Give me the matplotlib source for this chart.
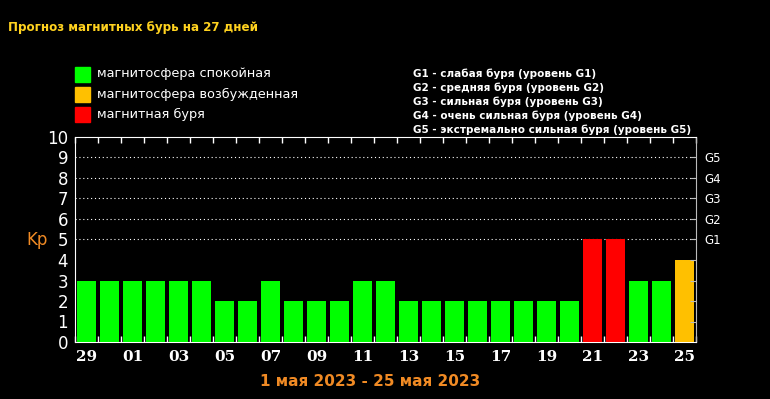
import numpy as np
import matplotlib.pyplot as plt

days = ["29", "30", "01", "02", "03", "04", "05", "06", "07", "08", "09", "10", "11", "12",
        "13", "14", "15", "16", "17", "18", "19", "20", "21", "22", "23", "24", "25"]
kp = [3, 3, 3, 3, 3, 3, 2, 2, 3, 2, 2, 2, 3, 3,
      2, 2, 2, 2, 2, 2, 2, 2, 5, 5, 3, 3, 4]
g_levels = [5, 6, 7, 8, 9]
g_labels = ["G1", "G2", "G3", "G4", "G5"]
legend_items = ["магнитосфера спокойная", "магнитосфера возбужденная", "магнитная буря"]
g_text = ["G1 - слабая буря (уровень G1)",
          "G2 - средняя буря (уровень G2)",
          "G3 - сильная буря (уровень G3)",
          "G4 - очень сильная буря (уровень G4)",
          "G5 - экстремально сильная буря (уровень G5)"]

GREEN = "#00ff00"
ORANGE = "#ffc000"
RED = "#ff0000"


def bar_color(v):
    if v >= 5:
        return RED
    if v == 4:
        return ORANGE
    return GREEN


fig = plt.figure(figsize=(7.7, 3.99), dpi=100, facecolor="black")
ax = fig.add_axes([75 / 770, 57 / 399, 621 / 770, 205 / 399])
ax.set_facecolor("black")

x = np.arange(len(kp))
ax.bar(x, kp, width=0.8, color=[bar_color(v) for v in kp], zorder=3)

for lv in g_levels:
    ax.axhline(lv, color="white", linestyle=(0, (1, 2.5)), linewidth=0.8, zorder=1)

ax.set_xlim(-0.5, len(kp) - 0.5)
ax.set_ylim(0, 10)

ax.set_yticks(range(11))
ax.set_yticklabels([str(i) for i in range(11)], fontsize=12, color="white")
ax.tick_params(axis="y", length=0, pad=5)

ax.set_xticks(x[::2])
ax.set_xticklabels(days[::2], fontsize=11, color="white", family="DejaVu Serif",
                   fontweight="bold")
ax.tick_params(axis="x", which="major", length=0, pad=6)
ax.set_xticks(np.arange(len(kp) + 1) - 0.5, minor=True)
ax.tick_params(axis="x", which="minor", direction="in", length=4, color="white",
               top=True, bottom=True, width=1)

for s in ["left", "top", "bottom"]:
    ax.spines[s].set_color("white")
ax.spines["right"].set_color("#bbbbbb")

ax2 = ax.twinx()
ax2.set_ylim(0, 10)
ax2.set_yticks(range(1, 10))
ax2.set_yticklabels(["", "", "", ""] + g_labels, fontsize=8.5, color="white")
ax2.tick_params(axis="y", direction="in", length=4, color="#bbbbbb", pad=6)
for s in ax2.spines.values():
    s.set_visible(False)

fig.text(37 / 770, 1 - 240 / 399, "Kp", color="#f08a24", fontsize=12, ha="center",
         va="center")

fig.text(8 / 770, 1 - 28 / 399, "Прогноз магнитных бурь на 27 дней", color="#ffd21f",
         fontsize=8.6, fontweight="bold", va="center")

leg_colors = [GREEN, ORANGE, RED]
for i, (lab, c) in enumerate(zip(legend_items, leg_colors)):
    yc = 74 + i * 20
    fig.patches.append(plt.Rectangle((75 / 770, 1 - (yc + 7.5) / 399), 15 / 770, 15 / 399,
                                     transform=fig.transFigure, color=c, figure=fig))
    fig.text(97 / 770, 1 - yc / 399, lab, color="white", fontsize=9.3, va="center")

for i, t in enumerate(g_text):
    fig.text(413 / 770, 1 - (74 + i * 14) / 399, t, color="white", fontsize=7.5,
             fontweight="bold", va="center")

fig.text(370 / 770, 1 - 381 / 399, "1 мая 2023 - 25 мая 2023", color="#f08a24",
         fontsize=11, fontweight="bold", ha="center", va="center")

fig.savefig("out.png", dpi=100, facecolor="black")
